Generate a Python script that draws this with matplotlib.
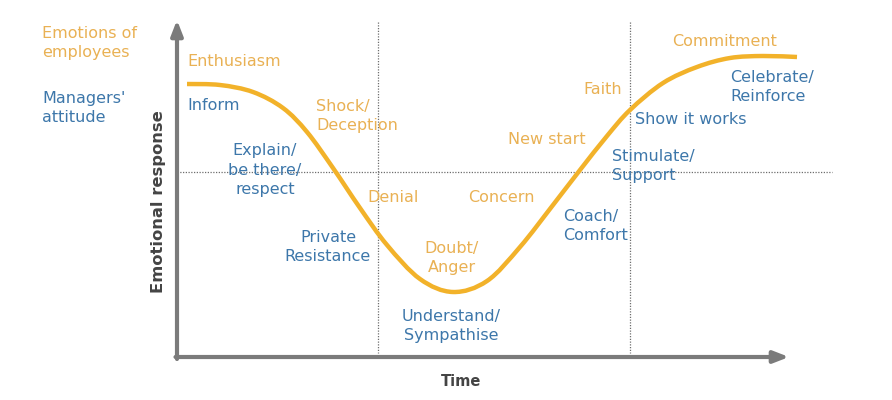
import matplotlib
matplotlib.use("Agg")
import matplotlib.pyplot as plt
import numpy as np
from matplotlib.path import Path
from matplotlib.patches import PathPatch

# ---- data (chart units: horizontal = time, vertical = emotional response, screen-like scale) ----
time = [187, 220, 253, 283, 307, 333, 360, 387, 420, 453, 487, 520, 553, 580, 607,
        630, 663, 697, 730, 763, 797]
response = [84, 85, 92, 108, 132, 168, 208, 245, 279, 292, 281, 247, 205, 170, 136,
            110, 83, 67, 58, 56, 57]

emotions = [("Enthusiasm", 187, 61, "left"), ("Shock/\nDeception", 316, 116, "left"),
            ("Denial", 367, 197, "left"), ("Doubt/\nAnger", 452, 258, "center"),
            ("Concern", 468, 197, "left"), ("New start", 508, 139, "left"),
            ("Faith", 583, 89, "left"), ("Commitment", 672, 41, "left")]
attitudes = [("Inform", 187, 106, "left"), ("Explain/\nbe there/\nrespect", 265, 170, "center"),
             ("Private\nResistance", 328, 247, "center"), ("Understand/\nSympathise", 451, 326, "center"),
             ("Coach/\nComfort", 563, 226, "left"), ("Stimulate/\nSupport", 612, 166, "left"),
             ("Show it works", 635, 119, "left"), ("Celebrate/\nReinforce", 730, 87, "left")]

phase_x = [378, 630]
neutral_y = 172

ORANGE_LINE = "#F2B22A"
ORANGE_TXT = "#E9B154"
BLUE = "#3D77AA"
GRAY = "#7B7B7B"
DOT = "#6E6E6E"

fig = plt.figure(figsize=(8.92, 4.0), dpi=100)
ax = fig.add_axes([0, 0, 1, 1])
ax.set_xlim(0, 892)
ax.set_ylim(400, 0)
ax.axis("off")

# dotted reference lines
for x in phase_x:
    ax.plot([x, x], [22, 353], color=DOT, lw=0.9, ls=(0, (1, 1.2)), zorder=1)
ax.plot([177, 832], [neutral_y, neutral_y], color=DOT, lw=0.9, ls=(0, (1, 1.2)), zorder=1)

# axes arrows
ax.annotate("", xy=(177, 20), xytext=(177, 359),
            arrowprops=dict(arrowstyle="-|>,head_length=0.9,head_width=0.35", color=GRAY, lw=3,
                            shrinkA=0, shrinkB=0), zorder=2)
ax.annotate("", xy=(789, 357), xytext=(175.5, 357),
            arrowprops=dict(arrowstyle="-|>,head_length=0.9,head_width=0.35", color=GRAY, lw=3,
                            shrinkA=0, shrinkB=0), zorder=2)

# curve: smooth path through the read points (Catmull-Rom rendered as cubic Bezier segments)
P = np.column_stack([time, response]).astype(float)
verts = [P[0]]
codes = [Path.MOVETO]
for i in range(len(P) - 1):
    p0 = P[i - 1] if i > 0 else P[i]
    p1, p2 = P[i], P[i + 1]
    p3 = P[i + 2] if i + 2 < len(P) else P[i + 1]
    verts += [p1 + (p2 - p0) / 6.0, p2 - (p3 - p1) / 6.0, p2]
    codes += [Path.CURVE4] * 3
ax.add_patch(PathPatch(Path(verts, codes), facecolor="none", edgecolor=ORANGE_LINE,
                       lw=3.2, capstyle="butt", joinstyle="round", zorder=3))

FS = 11.5
LS = 1.4
for txt, x, y, ha in emotions:
    ax.text(x, y, txt, color=ORANGE_TXT, fontsize=FS, ha=ha, va="center",
            linespacing=LS, zorder=4)
for txt, x, y, ha in attitudes:
    ax.text(x, y, txt, color=BLUE, fontsize=FS, ha=ha, va="center",
            linespacing=LS, zorder=4)

# legend-like labels
ax.text(42, 43, "Emotions of\nemployees", color=ORANGE_TXT, fontsize=FS, ha="left",
        va="center", linespacing=LS)
ax.text(42, 108, "Managers'\nattitude", color=BLUE, fontsize=FS, ha="left",
        va="center", linespacing=LS)

# axis titles
ax.text(158, 202, "Emotional response", color="#444444", fontsize=11.8, fontweight="bold",
        rotation=90, ha="center", va="center")
ax.text(461, 381, "Time", color="#444444", fontsize=10.5, fontweight="bold",
        ha="center", va="center")

fig.savefig("out.png", dpi=100, facecolor="white")
